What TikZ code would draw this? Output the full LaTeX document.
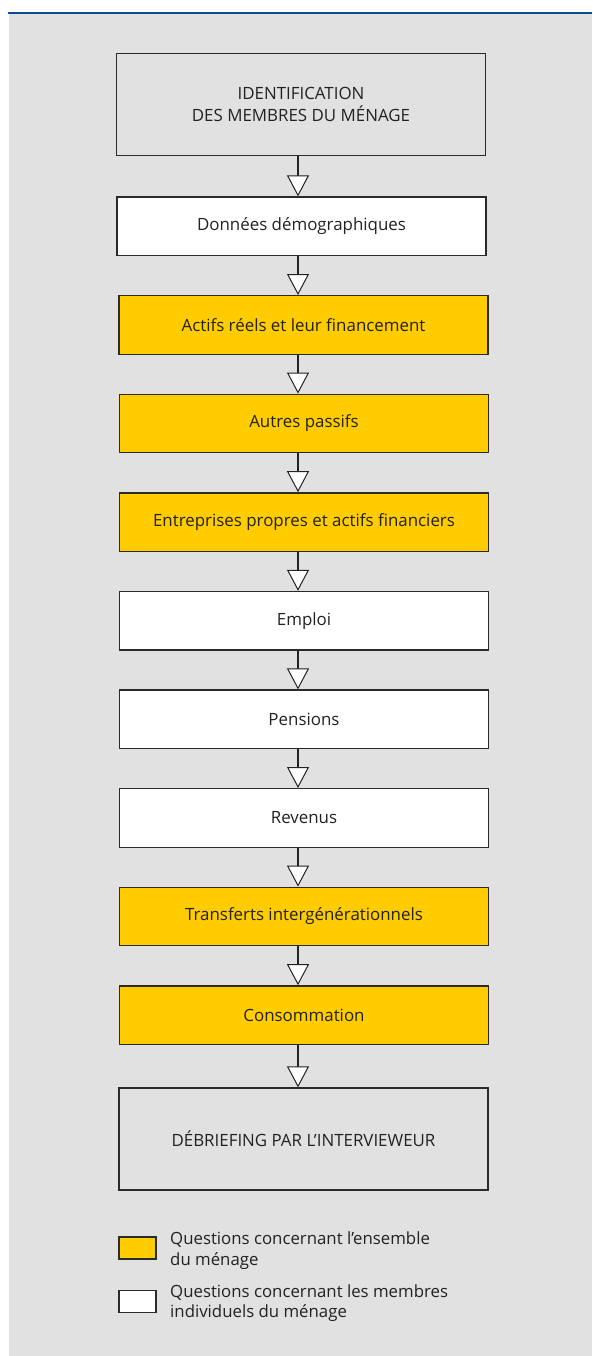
\documentclass[tikz,border=0pt]{standalone}
\usepackage{fontspec}
\setmainfont{Open Sans}
\usetikzlibrary{arrows.meta}
\definecolor{bg}{HTML}{E1E1E2}
\definecolor{ylw}{HTML}{FFCC00}
\definecolor{topblue}{HTML}{0B4B93}
\definecolor{ink}{HTML}{222222}
\definecolor{edge}{HTML}{2A2A2A}
\begin{document}
\begin{tikzpicture}[x=1pt,y=-1pt,
  box/.style={draw=edge, line width=1.3pt, minimum width=369pt, minimum height=58.5pt,
    inner sep=0pt, text=ink, font=\fontsize{16.9}{22.5}\selectfont, align=center},
  whitebox/.style={box, fill=white},
  yellowbox/.style={box, fill=ylw},
  greybox/.style={box, fill=bg, minimum height=102pt},
  flow/.style={draw=ink, line width=1.3pt,
    -{Triangle[length=21pt,width=22pt,fill=white,line width=1pt]}},
  legendkey/.style={draw=edge, line width=1.3pt, minimum width=37pt, minimum height=22pt, inner sep=0pt},
  legendtext/.style={anchor=north west, inner sep=0pt, text=ink,
    font=\fontsize{16.8}{20.5}\selectfont, align=left}]
\useasboundingbox (0,0) rectangle (592,1356);
\fill[bg] (8.5,14) rectangle (592,1356);
\draw[topblue, line width=2.2pt] (8,13) -- (592,13);

\coordinate (ax) at (298,0);

\node[greybox]   (id)   at (301,104.5)    {IDENTIFICATION\\DES MEMBRES DU MÉNAGE};
\node[whitebox]  (dem)  at (301.5,226.3)  {Données démographiques};
\node[yellowbox] (act)  at (303.5,324.9)  {Actifs réels et leur financement};
\node[yellowbox] (pas)  at (304,423.5)    {Autres passifs};
\node[yellowbox] (ent)  at (304,522.1)    {Entreprises propres et actifs financiers};
\node[whitebox]  (emp)  at (304,620.7)    {Emploi};
\node[whitebox]  (pen)  at (304,719.3)    {Pensions};
\node[whitebox]  (rev)  at (304,817.9)    {Revenus};
\node[yellowbox] (tra)  at (304,916.5)    {Transferts intergénérationnels};
\node[yellowbox] (con)  at (304,1015.1)   {Consommation};
\node[greybox]   (deb)  at (303.5,1139)   {DÉBRIEFING PAR L’INTERVIEWEUR};

\foreach \a/\b in {id/dem,dem/act,act/pas,pas/ent,ent/emp,emp/pen,pen/rev,rev/tra,tra/con,con/deb}
  \draw[flow] (\a.south -| ax) -- (\b.north -| ax);

\node[legendkey, fill=ylw]   (k1) at (137.5,1248)  {};
\node[legendkey, fill=white] (k2) at (137.5,1301.5) {};
\node[legendtext] (t1) at (170,1232) {Questions concernant l’ensemble\\du ménage};
\node[legendtext] (t2) at (170,1284.5) {Questions concernant les membres\\individuels du ménage};
\end{tikzpicture}
\end{document}
